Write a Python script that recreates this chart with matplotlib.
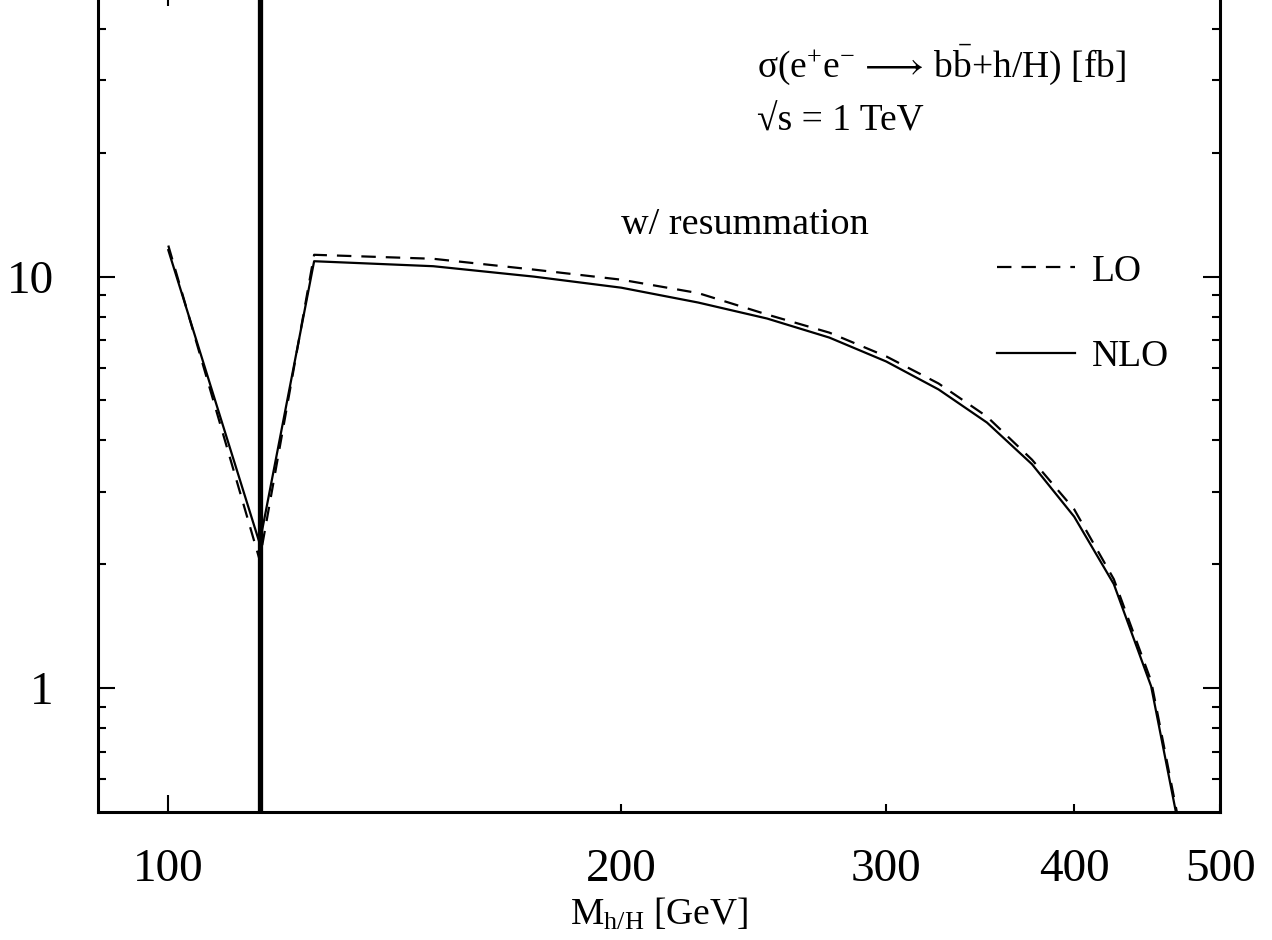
import matplotlib
matplotlib.use("Agg")
import matplotlib.pyplot as plt
from matplotlib.ticker import FixedLocator, NullFormatter

# ---------------------------------------------------------------------------
# cross section sigma(e+e- -> b bbar + h/H) [fb], sqrt(s) = 1 TeV, w/ resummation
# ---------------------------------------------------------------------------
mass = [100, 115, 125, 150, 175, 200, 225, 250, 275, 300, 325, 350, 375,
        400, 425, 450, 475]
sigma_lo = [11.9, 2.05, 11.3, 11.05, 10.4, 9.83, 9.12, 8.09, 7.31, 6.40,
            5.50, 4.57, 3.59, 2.72, 1.84, 1.04, 0.38]
sigma_nlo = [11.6, 2.25, 10.9, 10.6, 10.0, 9.40, 8.65, 7.91, 7.11, 6.22,
             5.32, 4.42, 3.50, 2.61, 1.79, 1.01, 0.37]

m_h_max = 115  # upper bound of the light scalar mass

xlim = (89.8, 500)
ylim = (0.5, 50)
xticks_major = [100]
xticks_minor = [200, 300, 400, 500]
xtick_labels = ['200', '300', '400', '500']

plt.rcParams['font.family'] = ['Liberation Serif', 'DejaVu Serif']
plt.rcParams['mathtext.fontset'] = 'custom'
plt.rcParams['mathtext.rm'] = 'Liberation Serif'
plt.rcParams['mathtext.it'] = 'Liberation Serif:italic'

fig = plt.figure(figsize=(12.72, 9.40), dpi=100)
ax = fig.add_axes([98 / 1272, 128 / 940, 1122 / 1272, 823 / 940])

ax.plot(mass, sigma_lo, color='black', lw=1.6, ls=(0, (6.5, 4.5)), label='LO')
ax.plot(mass, sigma_nlo, color='black', lw=1.6, label='NLO')
ax.axvline(m_h_max, color='black', lw=3.8)

ax.set_xscale('log')
ax.set_yscale('log')
ax.set_xlim(*xlim)
ax.set_ylim(*ylim)

ax.xaxis.set_major_locator(FixedLocator(xticks_major))
ax.xaxis.set_minor_locator(FixedLocator(xticks_minor))
ax.set_xticklabels(['100'])
ax.set_xticks(xticks_minor, labels=xtick_labels, minor=True)

ax.yaxis.set_major_locator(FixedLocator([1, 10]))
ax.yaxis.set_minor_locator(FixedLocator([0.6, 0.7, 0.8, 0.9, 2, 3, 4, 5, 6, 7, 8, 9,
                                         20, 30, 40]))
ax.set_yticklabels(['1', '10'])
ax.yaxis.set_minor_formatter(NullFormatter())

ax.tick_params(which='both', direction='in', top=True, right=True, width=1.5,
               labelsize=34)
ax.tick_params(which='major', length=12)
ax.tick_params(which='minor', length=6)
ax.tick_params(axis='x', which='both', pad=26)
ax.tick_params(axis='y', which='both', pad=32)
for sp in ax.spines.values():
    sp.set_linewidth(2.2)

ax.set_xlabel(r'M$_{\mathrm{h/H}}$ [GeV]', fontsize=27, labelpad=4)

ax.text(0.587, 0.893,
        r'σ(e$^{+}$e$^{-}\,\longrightarrow\,$b$\bar{\mathrm{b}}$+h/H) [fb]',
        transform=ax.transAxes, fontsize=27, va='baseline')
ax.text(0.587, 0.828, '\u221as = 1 TeV', transform=ax.transAxes,
        fontsize=27, va='baseline')
ax.text(0.577, 0.702, 'w/ resummation', transform=ax.transAxes, fontsize=27.5,
        va='baseline', ha='center')

ax.legend(loc='upper left', bbox_to_anchor=(0.801, 0.678), frameon=False,
          fontsize=27, handlelength=2.1, handletextpad=0.45, labelspacing=1.35,
          borderpad=0, borderaxespad=0)

fig.savefig('out.png', dpi=100)
